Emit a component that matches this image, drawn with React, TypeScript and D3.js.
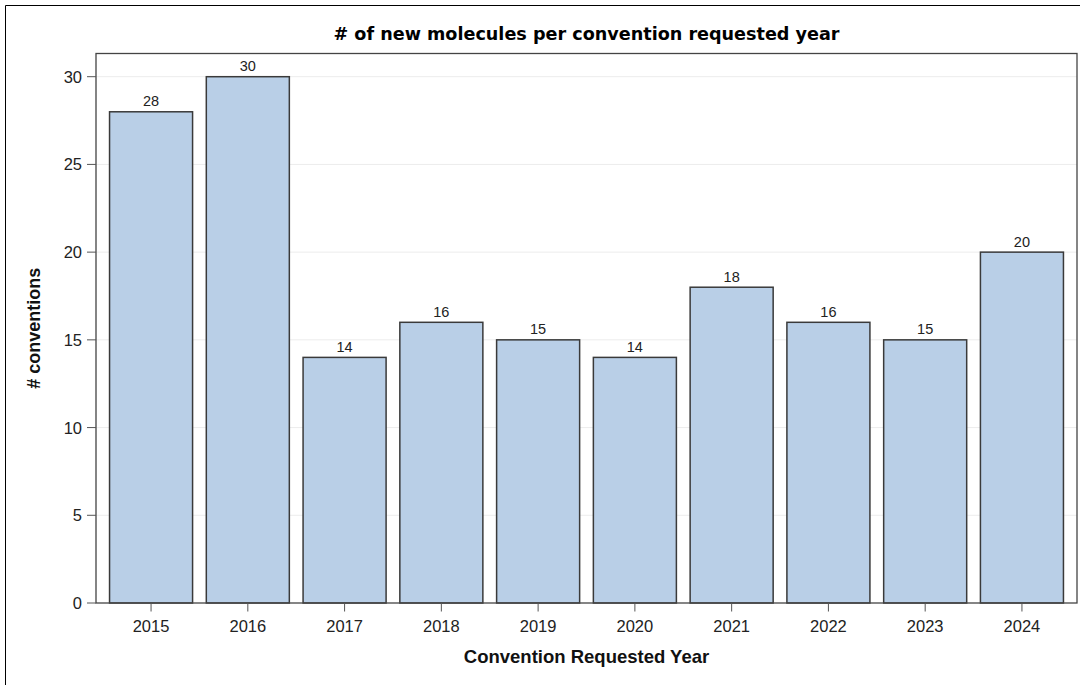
import React from "react";
import * as d3 from "d3";

const years = ["2015", "2016", "2017", "2018", "2019", "2020", "2021", "2022", "2023", "2024"];
const counts = [28, 30, 14, 16, 15, 14, 18, 16, 15, 20];
const yTicks = [0, 5, 10, 15, 20, 25, 30];

const W = 1080;
const H = 685;
const M = { left: 96, right: 1077, top: 53.5, bottom: 603 };

export default function App() {
  const x = d3
    .scaleBand<string>()
    .domain(years)
    .range([M.left, M.right])
    .paddingInner(0.142)
    .paddingOuter(0.14);
  const y = d3.scaleLinear().domain([0, 30]).range([M.bottom, 76.7]);
  const font = "'Liberation Sans', Arial, sans-serif";

  return (
    <svg
      width={W}
      height={H}
      style={{ position: "absolute", left: 0, top: 0, background: "#fff" }}
      fontFamily={font}
    >
      <rect x={0} y={0} width={W} height={H} fill="#fff" />
      {/* outer frame */}
      <line x1={5.5} y1={5.5} x2={W} y2={5.5} stroke="#000" strokeWidth={1} />
      <line x1={5.5} y1={5.5} x2={5.5} y2={H} stroke="#000" strokeWidth={1} />

      {/* title */}
      <text
        x={(M.left + M.right) / 2}
        y={40}
        textAnchor="middle"
        fontFamily="'DejaVu Sans', Verdana, sans-serif"
        fontWeight="bold"
        fontSize={17.6}
        fill="#000"
      >
        # of new molecules per convention requested year
      </text>

      {/* gridlines */}
      {yTicks.filter((t) => t > 0).map((t) => (
        <line key={"g" + t} x1={M.left} x2={M.right} y1={y(t)} y2={y(t)} stroke="#ececec" strokeWidth={1} />
      ))}

      {/* bars */}
      {years.map((yr, i) => (
        <g key={yr}>
          <rect
            x={x(yr)!}
            y={y(counts[i])}
            width={x.bandwidth()}
            height={y(0) - y(counts[i])}
            fill="#b9cfe7"
            stroke="#3a3a3a"
            strokeWidth={1.5}
          />
          <text
            x={x(yr)! + x.bandwidth() / 2}
            y={y(counts[i]) - 5.5}
            textAnchor="middle"
            fontSize={14.5}
            fill="#222"
          >
            {counts[i]}
          </text>
        </g>
      ))}

      {/* plot frame */}
      <rect
        x={M.left}
        y={M.top}
        width={M.right - M.left}
        height={M.bottom - M.top}
        fill="none"
        stroke="#444"
        strokeWidth={1.3}
      />

      {/* y axis ticks */}
      {yTicks.map((t) => (
        <g key={"y" + t}>
          <line x1={M.left - 9} x2={M.left} y1={y(t)} y2={y(t)} stroke="#555" />
          <text x={M.left - 14} y={y(t) + 6} textAnchor="end" fontSize={16.5} fill="#222">
            {t}
          </text>
        </g>
      ))}

      {/* x axis ticks */}
      {years.map((yr) => {
        const cx = x(yr)! + x.bandwidth() / 2;
        return (
          <g key={"x" + yr}>
            <line x1={cx} x2={cx} y1={M.bottom} y2={M.bottom + 8.5} stroke="#555" />
            <text x={cx} y={631.5} textAnchor="middle" fontSize={16.5} fill="#222">
              {yr}
            </text>
          </g>
        );
      })}

      {/* axis labels */}
      <text
        x={(M.left + M.right) / 2}
        y={663}
        textAnchor="middle"
        fontSize={18.5}
        fontWeight="bold"
        fill="#111"
      >
        Convention Requested Year
      </text>
      <text
        transform={`translate(39.5, ${(M.top + M.bottom) / 2}) rotate(-90)`}
        textAnchor="middle"
        fontSize={18}
        fontWeight="bold"
        fill="#111"
      >
        # conventions
      </text>
    </svg>
  );
}
